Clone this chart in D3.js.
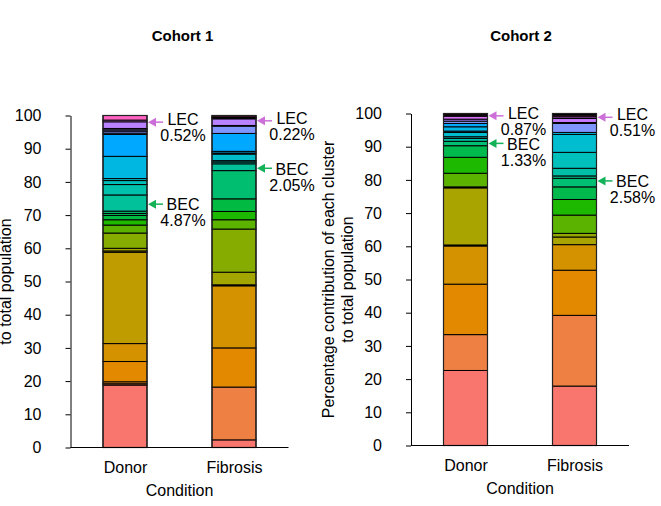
<!DOCTYPE html>
<html>
<head>
<meta charset="utf-8">
<script src="https://cdn.jsdelivr.net/npm/d3@7"></script>
<style>
  html, body { margin: 0; padding: 0; background: #fff; }
  svg { display: block; font-family: "Liberation Sans", Arial, sans-serif; }
</style>
</head>
<body>
<svg id="chart" width="661" height="506"></svg>
<script>
// ---- data -------------------------------------------------------------
const conditions = ["Donor", "Fibrosis"];
const yTicks = [0, 10, 20, 30, 40, 50, 60, 70, 80, 90, 100];

// Cohort 1: clusters listed bottom -> top of the stack
const cohort1Clusters = ["C0","C1","C2","C3","C4","C5","C6","C7","C8","C9","C10","C11","C12","C13","BEC","C15","C16","C17","C18","C19","C20","C21","C22","C23","C24","C25","LEC","C27","C28","C29"];
const cohort1Colors = ["#F8766D","#EE8044","#E7851E","#E38900","#D49200","#BF9C00","#B0A000","#A3A500","#86AC00","#5BB300","#1DB800","#00BA42","#00BC5A","#00BE70","#00C19A","#00C1AB","#00C0BA","#00BDCC","#00B7E2","#00B0F0","#00A9FF","#4FA1FF","#7F96FF","#9590FF","#A889FF","#B983FF","#D774F6","#F166E5","#FF61C3","#FF67A4"];
const cohort1Donor    = [18.8,0.4,0.6,6.1,5.4,27.5,0.4,0.8,4.6,2.4,1.6,1.3,0.6,0.7,4.87,3.13,1.2,0.6,6.7,0,6.6,0.4,0.6,0.4,0.4,2.0,0.52,0,1.38,0];
const cohort1Fibrosis = [2.3,15.9,0,11.8,18.7,0.3,0,3.8,13.0,2.8,2.5,3.8,0,8.5,2.05,0.55,0.4,2.0,0.3,0.5,5.4,0,2.2,0.2,0,2.0,0.22,0.2,0.2,0.38];

// Cohort 2: clusters listed bottom -> top of the stack
const cohort2Clusters = ["K0","K1","K2","K3","K4","K5","K6","K7","K8","K9","BEC","K11","K12","K13","K14","K15","K16","K17","K18","K19","K20","LEC","K22","K23","K24"];
const cohort2Colors = ["#F8766D","#EE8044","#E38900","#D49200","#BF9C00","#A9A400","#96A800","#5BB300","#1DB800","#00BA4E","#00BE72","#00C08E","#00C1A7","#00C0BB","#00BDD0","#00B9DD","#00B6E8","#00A9FF","#7F96FF","#A48AFF","#C77CFF","#DA72F8","#F863DF","#FF65AE","#FF6C8E"];
const cohort2Donor    = [22.6,10.8,15.2,11.5,0.3,17.2,0.3,4.1,4.8,3.5,1.33,0,0.87,0.5,1.3,0.4,1.3,1.0,0.7,0.6,0,0.87,0.3,0.28,0.25];
const cohort2Fibrosis = [17.9,21.3,13.6,7.7,0,2.3,1.1,5.5,4.7,3.8,2.58,0.72,2.3,4.8,5.4,0.6,0,0,2.7,0.3,1.19,0.51,0.35,0.35,0.3];

// Called-out clusters: where each arrow points (percent axis)
const cohort1Notes = [
  { condition: "Donor",    cluster: "LEC", at: 98.0 },
  { condition: "Donor",    cluster: "BEC", at: 73.3 },
  { condition: "Fibrosis", cluster: "LEC", at: 98.4 },
  { condition: "Fibrosis", cluster: "BEC", at: 84.1 }
];
const cohort2Notes = [
  { condition: "Donor",    cluster: "LEC", at: 99.3 },
  { condition: "Donor",    cluster: "BEC", at: 91.0 },
  { condition: "Fibrosis", cluster: "LEC", at: 98.85 },
  { condition: "Fibrosis", cluster: "BEC", at: 79.7 }
];

const titles = ["Cohort 1", "Cohort 2"];
const xTitle = "Condition";
const yTitleLines = ["Percentage contribution of each cluster", "to total population"];

// ---- drawing ----------------------------------------------------------
const noteStyle = {
  LEC: { color: "#CC6FD8", textShift: 3 },
  BEC: { color: "#14B258", textShift: 6.3 }
};
const svg = d3.select("#chart");
const FONT = 16;
const BAR_W = 44;

const panels = [
  { title: titles[0], clusters: cohort1Clusters, colors: cohort1Colors,
    values: { Donor: cohort1Donor, Fibrosis: cohort1Fibrosis }, notes: cohort1Notes,
    xRange: [70.5, 288.5], yRange: [447.5, 115.5], titleX: 182.5, yTitleX: -13 },
  { title: titles[1], clusters: cohort2Clusters, colors: cohort2Colors,
    values: { Donor: cohort2Donor, Fibrosis: cohort2Fibrosis }, notes: cohort2Notes,
    xRange: [411, 629], yRange: [445.5, 113.5], titleX: 521, yTitleX: 329 }
];

panels.forEach(p => {
  const g = svg.append("g");
  const x = d3.scalePoint().domain(conditions).range(p.xRange).padding(0.5);
  const y = d3.scaleLinear().domain([0, 100]).range(p.yRange);
  const color = d3.scaleOrdinal().domain(p.clusters).range(p.colors);

  // one row per condition, one column per cluster
  const rows = conditions.map(c => {
    const r = { condition: c };
    p.clusters.forEach((k, i) => { r[k] = p.values[c][i]; });
    return r;
  });
  const series = d3.stack().keys(p.clusters)(rows);

  // stacked segments
  g.append("g").selectAll("g")
    .data(series)
    .join("g")
      .attr("fill", d => color(d.key))
    .selectAll("rect")
    .data(d => d.filter(s => s[1] - s[0] > 0))
    .join("rect")
      .attr("x", d => x(d.data.condition) - BAR_W / 2)
      .attr("width", BAR_W)
      .attr("y", d => y(d[1]))
      .attr("height", d => y(d[0]) - y(d[1]))
      .attr("stroke", "#000")
      .attr("stroke-width", 1);

  // outline of each bar
  g.append("g").selectAll("rect")
    .data(conditions)
    .join("rect")
      .attr("x", c => x(c) - BAR_W / 2)
      .attr("width", BAR_W)
      .attr("y", y(100))
      .attr("height", y(0) - y(100))
      .attr("fill", "none")
      .attr("stroke", "#222")
      .attr("stroke-width", 1.2);

  // y axis
  const yAxis = g.append("g")
    .attr("transform", `translate(${p.xRange[0]},0)`)
    .call(d3.axisLeft(y).tickValues(yTicks).tickSize(5).tickPadding(24).tickSizeOuter(0));
  yAxis.selectAll("text").attr("font-size", FONT).attr("fill", "#000")
    .attr("font-family", "Liberation Sans, Arial, sans-serif");
  yAxis.selectAll("line, path").attr("stroke", "#000");

  // x axis (line only)
  const xAxis = g.append("g")
    .attr("transform", `translate(0,${p.yRange[0]})`)
    .call(d3.axisBottom(x).tickSize(0).tickPadding(14).tickSizeOuter(0));
  xAxis.select("path").attr("d", `M${p.xRange[0]},0H${p.xRange[1]}`).attr("stroke", "#000");
  xAxis.selectAll("text").attr("font-size", FONT).attr("fill", "#000")
    .attr("font-family", "Liberation Sans, Arial, sans-serif");

  // axis titles
  g.append("text")
    .attr("x", (p.xRange[0] + p.xRange[1]) / 2)
    .attr("y", p.yRange[0] + 48)
    .attr("text-anchor", "middle")
    .attr("font-size", FONT)
    .text(xTitle);

  const yMid = (p.yRange[0] + p.yRange[1]) / 2;
  yTitleLines.forEach((line, i) => {
    g.append("text")
      .attr("transform", `translate(${p.yTitleX + 5 + i * 19},${yMid}) rotate(-90)`)
      .attr("text-anchor", "middle")
      .attr("font-size", FONT)
      .text(line);
  });

  // panel title
  g.append("text")
    .attr("x", p.titleX)
    .attr("y", 41)
    .attr("text-anchor", "middle")
    .attr("font-size", 15)
    .attr("font-weight", "bold")
    .text(p.title);

  // callouts for LEC / BEC
  p.notes.forEach(n => {
    const idx = p.clusters.indexOf(n.cluster);
    const value = p.values[n.condition][idx];
    const tip = x(n.condition) + BAR_W / 2 + 1;
    const ay = y(n.at);
    const st = noteStyle[n.cluster];
    g.append("line")
      .attr("x1", tip + 6).attr("x2", tip + 15)
      .attr("y1", ay).attr("y2", ay)
      .attr("stroke", st.color).attr("stroke-width", 1.5);
    g.append("path")
      .attr("d", `M${tip},${ay}L${tip + 8},${ay - 4.5}L${tip + 8},${ay + 4.5}Z`)
      .attr("fill", st.color);
    const tx = tip + 35;
    g.append("text")
      .attr("x", tx).attr("y", ay + st.textShift)
      .attr("text-anchor", "middle")
      .attr("font-size", FONT)
      .text(n.cluster);
    g.append("text")
      .attr("x", tx).attr("y", ay + st.textShift + 16)
      .attr("text-anchor", "middle")
      .attr("font-size", FONT)
      .text(value.toFixed(2) + "%");
  });
});
</script>
</body>
</html>
